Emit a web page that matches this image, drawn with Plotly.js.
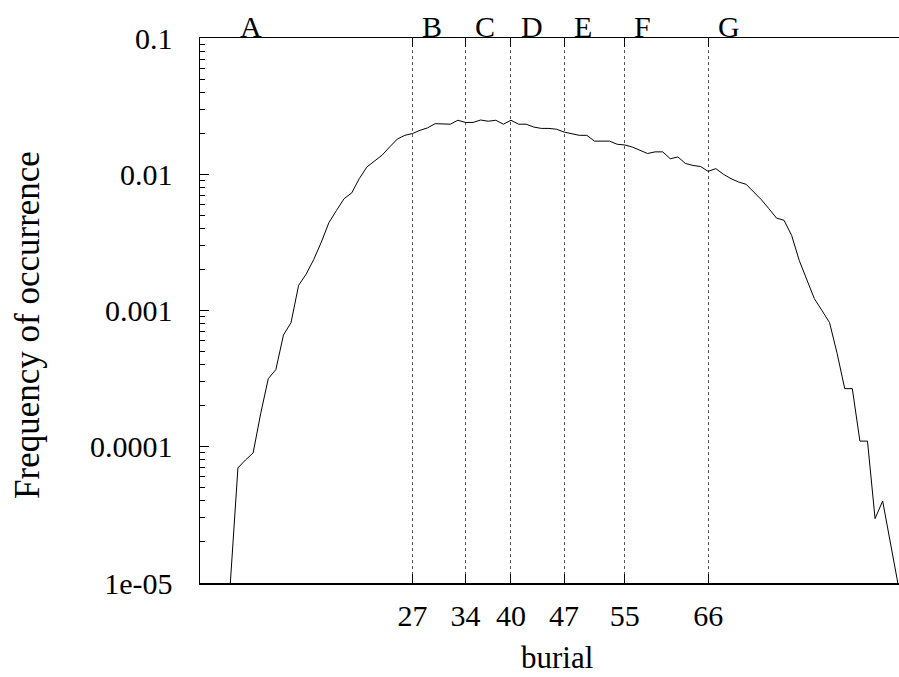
<!DOCTYPE html>
<html>
<head>
<meta charset="utf-8">
<script src="https://cdn.plot.ly/plotly-3.0.1.min.js"></script>
<style>
html, body { margin: 0; padding: 0; overflow: hidden; background: #fff; }
#chart { width: 913px; height: 677px; }
</style>
</head>
<body>
<div id="chart"></div>
<script>
// burial values (x) and frequency of occurrence (y)
var burial = [3,4,5,6,7,8,9,10,11,12,13,14,15,16,17,18,19,20,21,22,23,24,25,26,27,28,29,30,
  31,32,33,34,35,36,37,38,39,40,41,42,43,44,45,46,47,48,49,50,51,52,53,54,55,56,57,58,59,60,
  61,62,63,64,65,66,67,68,69,70,71,72,73,74,75,76,77,78,79,80,81,82,83,84,85,86,87,88,89,90,91];
var frequency = [1.0e-5,7.0e-5,8.0e-5,9.0e-5,1.75e-4,3.16e-4,3.68e-4,6.6e-4,8.15e-4,1.53e-3,
  1.85e-3,2.37e-3,3.18e-3,4.42e-3,5.43e-3,6.62e-3,7.29e-3,9.29e-3,1.13e-2,1.24e-2,
  1.38e-2,1.585e-2,1.81e-2,1.93e-2,1.99e-2,2.10e-2,2.19e-2,2.35e-2,2.33e-2,2.33e-2,
  2.49e-2,2.40e-2,2.40e-2,2.50e-2,2.45e-2,2.49e-2,2.33e-2,2.49e-2,2.33e-2,2.33e-2,
  2.22e-2,2.17e-2,2.17e-2,2.14e-2,2.04e-2,1.99e-2,1.93e-2,1.93e-2,1.75e-2,1.75e-2,
  1.75e-2,1.66e-2,1.64e-2,1.585e-2,1.50e-2,1.42e-2,1.46e-2,1.46e-2,1.30e-2,1.34e-2,
  1.20e-2,1.16e-2,1.14e-2,1.05e-2,1.10e-2,1.0e-2,9.29e-3,8.77e-3,8.44e-3,7.41e-3,
  6.51e-3,5.59e-3,4.77e-3,4.59e-3,3.56e-3,2.33e-3,1.67e-3,1.22e-3,1.0e-3,8.15e-4,
  4.83e-4,2.67e-4,2.67e-4,1.10e-4,1.10e-4,2.97e-5,4.0e-5,2.0e-5,1.0e-5];

// class boundaries (x ticks) and class labels at top
var boundaryTicks = [27, 34, 40, 47, 55, 66];
var classLabels = ['A', 'B', 'C', 'D', 'E', 'F', 'G'];
var classLabelX = [4, 28, 35, 41, 48, 56, 67];

// y ticks
var yTickVals = [1e-5, 1e-4, 1e-3, 1e-2, 1e-1];
var yTickText = ['1e-05', '0.0001', '0.001', '0.01', '0.1'];

var minorVals = [];
for (var d = 0; d < yTickVals.length - 1; d++) {
  for (var m = 2; m <= 9; m++) minorVals.push(yTickVals[d] * m);
}

var FONT = '"Liberation Serif", "Times New Roman", Times, serif';
var FS = 30;

var trace = {
  x: burial, y: frequency, type: 'scatter', mode: 'lines',
  line: { color: '#000', width: 1 }, hoverinfo: 'skip', cliponaxis: true
};

var annotations = classLabels.map(function (t, i) {
  return { text: t, x: classLabelX[i], xref: 'x', y: 1, yref: 'paper',
    xanchor: 'left', yanchor: 'bottom', showarrow: false, yshift: -7,
    font: { family: FONT, size: FS, color: '#000' } };
});
annotations.push({ text: 'Frequency of occurrence', textangle: -90, xref: 'paper', yref: 'paper',
  x: -0.243, y: 0.473, xanchor: 'center', yanchor: 'middle', showarrow: false,
  font: { family: FONT, size: 35, color: '#000' } });
annotations.push({ text: 'burial', xref: 'paper', yref: 'paper', x: 0.5, y: 0,
  xanchor: 'center', yanchor: 'top', yshift: -55, showarrow: false,
  font: { family: FONT, size: 31, color: '#000' } });

var layout = {
  width: 913, height: 677,
  margin: { l: 200, r: 0, t: 38, b: 94, pad: 0 },
  paper_bgcolor: '#fff', plot_bgcolor: '#fff',
  showlegend: false,
  font: { family: FONT, size: FS, color: '#000' },
  xaxis: {
    range: [-1, 93], tickmode: 'array', tickvals: boundaryTicks,
    ticks: 'inside', ticklen: 9, tickwidth: 1, tickcolor: '#000',
    showline: true, linewidth: 1.5, linecolor: '#000', mirror: 'ticks',
    showgrid: true, gridcolor: '#555', griddash: 'dot', gridwidth: 1,
    zeroline: false, ticklabelstandoff: 5,
    tickfont: { family: FONT, size: FS, color: '#000' }
  },
  yaxis: {
    type: 'log', range: [-5, -1], tickmode: 'array', tickvals: yTickVals, ticktext: yTickText,
    ticks: 'inside', ticklen: 9, tickwidth: 1, tickcolor: '#000',
    minor: { tickmode: 'array', tickvals: minorVals, ticks: 'inside', ticklen: 5, tickwidth: 1, tickcolor: '#000', showgrid: false },
    showline: true, linewidth: 1.5, linecolor: '#000', mirror: false,
    showgrid: false, zeroline: false, ticklabelstandoff: 20,
    tickfont: { family: FONT, size: FS, color: '#000' }
  },
  annotations: annotations
};

Plotly.newPlot('chart', [trace], layout, { displayModeBar: false, staticPlot: true });
</script>
</body>
</html>
